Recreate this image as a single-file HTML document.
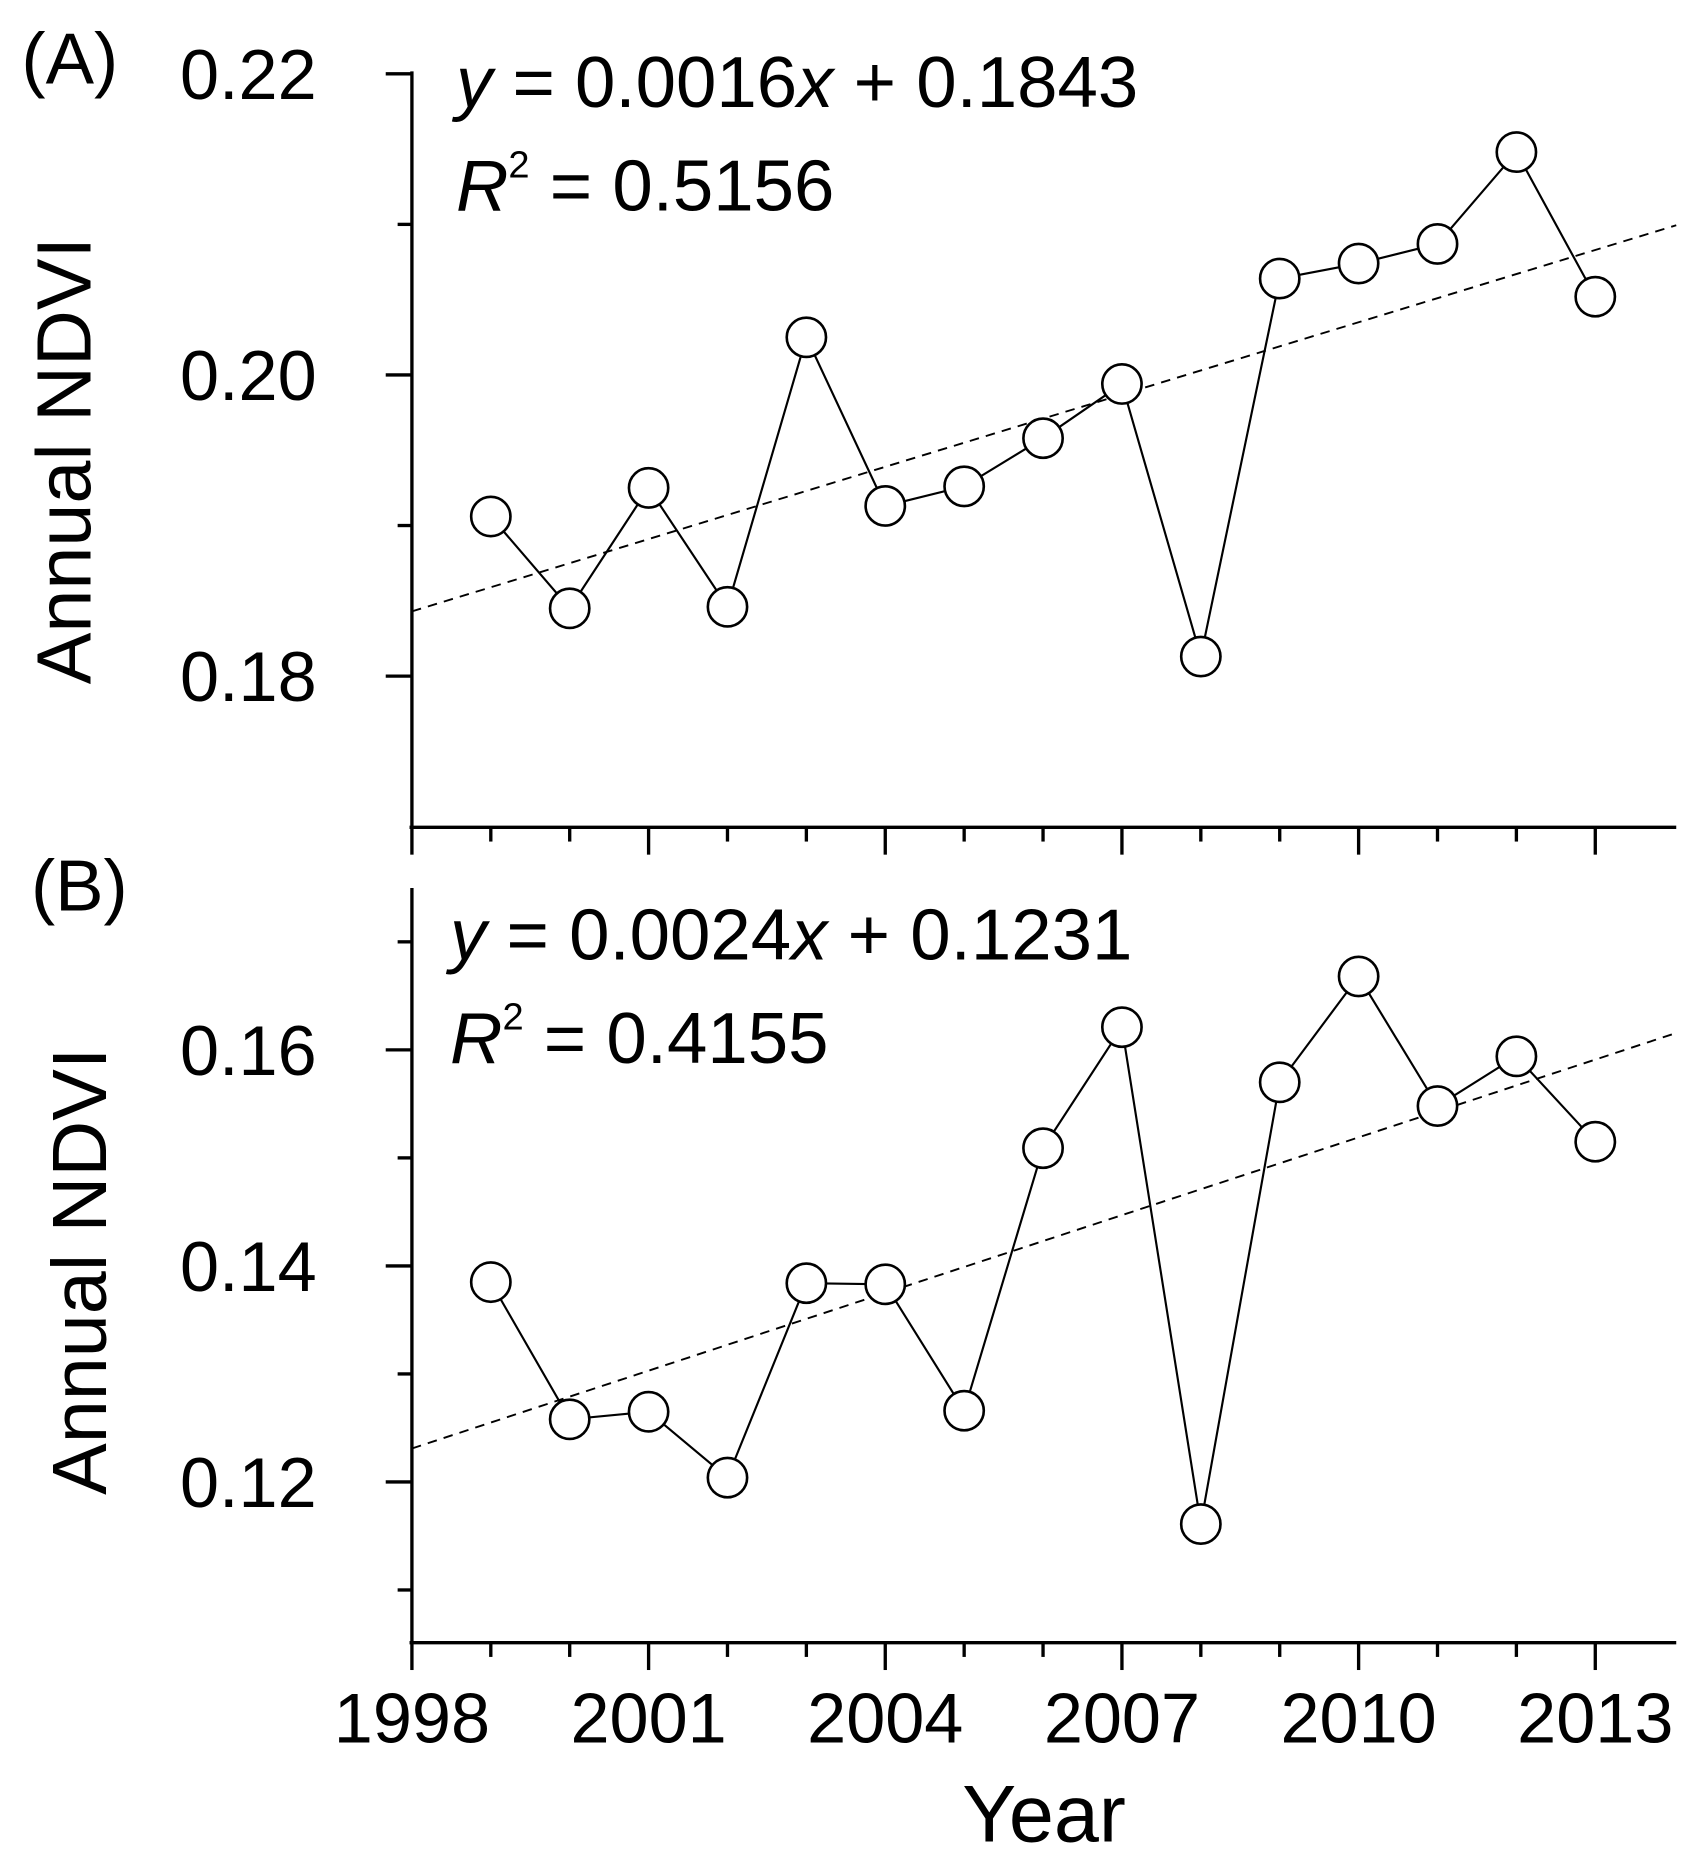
<!DOCTYPE html>
<html><head><meta charset="utf-8"><style>html,body{margin:0;padding:0;background:#fff}svg{display:block}text{font-family:"Liberation Sans",Arial,sans-serif;fill:#000}</style></head>
<body>
<svg id="chart" width="1706" height="1870" viewBox="0 0 1433 1571" preserveAspectRatio="none" xmlns="http://www.w3.org/2000/svg"></svg>
<script>
const years = [1999,2000,2001,2002,2003,2004,2005,2006,2007,2008,2009,2010,2011,2012,2013];
const ndviA = [0.1906,0.1845,0.1925,0.1846,0.2025,0.1913,0.1926,0.1958,0.1994,0.1813,0.2064,0.2074,0.2087,0.2148,0.2052];
const ndviB = [0.1385,0.1258,0.1265,0.1204,0.1384,0.1383,0.1266,0.1509,0.1621,0.1161,0.1570,0.1668,0.1548,0.1594,0.1515];
const trendA = [0.0016, 0.1843];
const trendB = [0.0024, 0.1231];
const ticksA = [0.18, 0.20, 0.22];
const minorA = [0.19, 0.21];
const ticksB = [0.12, 0.14, 0.16];
const minorB = [0.11, 0.13, 0.15, 0.17];
const xTickLabels = [1998, 2001, 2004, 2007, 2010, 2013];

const svg = document.getElementById('chart');
const NS = 'http://www.w3.org/2000/svg';
function mk(tag, attrs, parent) {
  const e = document.createElementNS(NS, tag);
  for (const k in attrs) e.setAttribute(k, attrs[k]);
  (parent || svg).appendChild(e);
  return e;
}
const X0 = 346, X1 = 1408;
const PXY = (1340 - 346) / 15;
const xs = y => X0 + (y - 1998) * PXY;

function panel(cfg) {
  const g = mk('g', {});
  
  
  const ys = v => cfg.yRef + (cfg.vRef - v) * cfg.pxPerUnit;
  const ya = mk('line', {x1: X0, y1: cfg.top, x2: X0, y2: cfg.bottom, stroke: '#000', 'stroke-width': 2.8}, g);
  
  
  const xa = mk('line', {x1: X0 - 2, y1: cfg.bottom, x2: X1, y2: cfg.bottom, stroke: '#000', 'stroke-width': 2.8}, g);
  
  
  cfg.ticks.forEach(t => {
    const y = ys(t);
    mk('line', {x1: X0 - 22, y1: y, x2: X0, y2: y, stroke: '#000', 'stroke-width': 2.8}, g);
    const tx = mk('text', {x: 266, y: y + 21, 'font-size': 59, 'text-anchor': 'end'}, g);
    
    
    tx.textContent = t.toFixed(2);
  });
  cfg.minor.forEach(t => {
    const y = ys(t);
    mk('line', {x1: X0 - 12, y1: y, x2: X0, y2: y, stroke: '#000', 'stroke-width': 2.8}, g);
  });
  for (let yr = 1998; yr <= 2013; yr++) {
    const major = (yr - 1998) % 3 === 0;
    mk('line', {x1: xs(yr), y1: cfg.bottom, x2: xs(yr), y2: cfg.bottom + (major ? 23 : 12), stroke: '#000', 'stroke-width': 2.8}, g);
  }
  const xEnd = 1998 + (X1 - X0) / PXY;
  const tr = mk('line', {x1: X0, y1: ys(cfg.trend[1]), x2: X1, y2: ys(cfg.trend[1] + cfg.trend[0] * (xEnd - 1998)), stroke: '#000', 'stroke-width': 1.6, 'stroke-dasharray': '8,6'}, g);
  
  
  const pts = years.map((yr, i) => xs(yr) + ',' + ys(cfg.data[i])).join(' ');
  const pl = mk('polyline', {points: pts, fill: 'none', stroke: '#000', 'stroke-width': 1.8}, g);
  
  
  years.forEach((yr, i) => {
    const c = mk('circle', {cx: xs(yr), cy: ys(cfg.data[i]), r: 16.5, fill: '#fff', stroke: '#000', 'stroke-width': 2.2}, g);
    
    
  });
  const pl2 = mk('text', {x: cfg.plx, y: cfg.ply, 'font-size': 61}, g);
  
  
  pl2.textContent = cfg.label;
  const yl = mk('text', {x: 0, y: 0, 'font-size': 65, 'text-anchor': 'middle', transform: `translate(${cfg.ylx},${cfg.yly}) rotate(-90)`}, g);
  
  
  yl.textContent = 'Annual NDVI';
  const eq = mk('text', {x: cfg.eqx, y: cfg.eqy, 'font-size': 61}, g);
  
  
  eq.innerHTML = `<tspan font-style="italic">y</tspan> = ${cfg.trend[0].toFixed(4)}<tspan font-style="italic">x</tspan> + ${cfg.trend[1].toFixed(4)}`;
  const r2 = mk('text', {x: cfg.eqx, y: cfg.eqy + 87, 'font-size': 61}, g);
  
  
  r2.innerHTML = `<tspan font-style="italic">R</tspan><tspan font-size="32" dy="-28">2</tspan><tspan dy="28"> = ${cfg.r2}</tspan>`;
}

panel({name: 'panel-a', data: ndviA, trend: trendA, ticks: ticksA, minor: minorA, top: 60, bottom: 695,
  yRef: 62, vRef: 0.22, pxPerUnit: 12650, label: '(A)', plx: 18, ply: 70, ylx: 76, yly: 387,
  eqx: 383, eqy: 90, r2: '0.5156'});
panel({name: 'panel-b', data: ndviB, trend: trendB, ticks: ticksB, minor: minorB, top: 746, bottom: 1380,
  yRef: 882, vRef: 0.16, pxPerUnit: 9075, label: '(B)', plx: 26, ply: 765, ylx: 89, yly: 1068,
  eqx: 378, eqy: 806, r2: '0.4155'});

xTickLabels.forEach(yr => {
  const t = mk('text', {x: xs(yr), y: 1464, 'font-size': 59, 'text-anchor': 'middle'});
  
  
  t.textContent = yr;
});
const xt = mk('text', {x: 877, y: 1547, 'font-size': 68, 'text-anchor': 'middle'});


xt.textContent = 'Year';
</script>
</body></html>
